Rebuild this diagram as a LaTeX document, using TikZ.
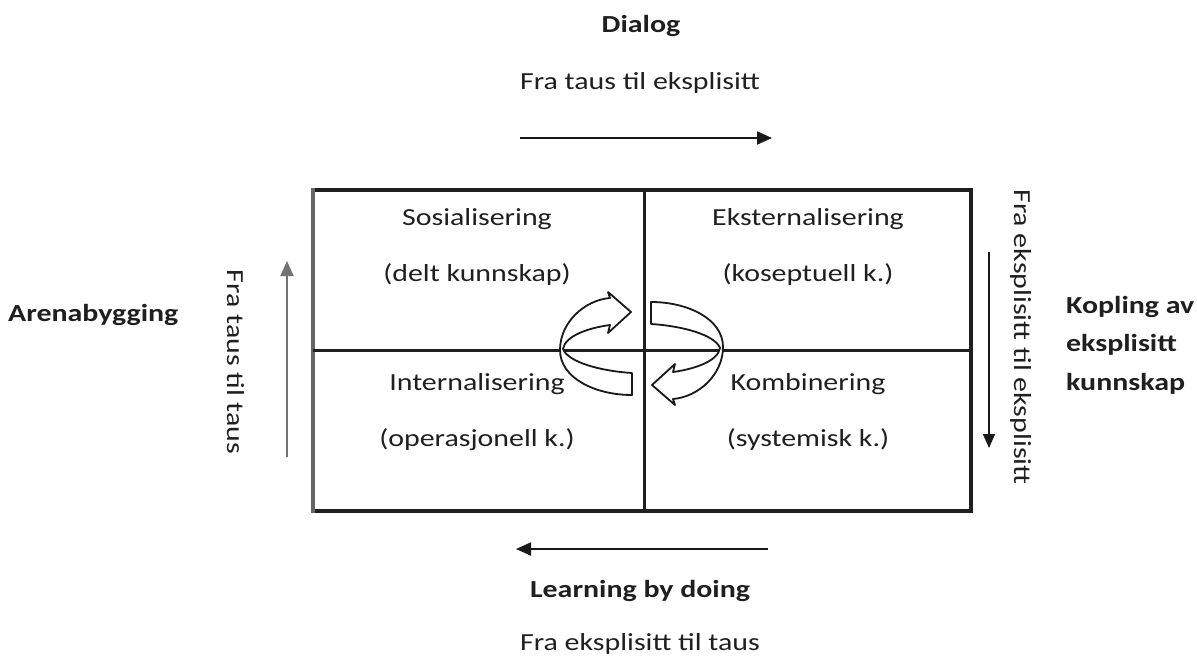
\documentclass[tikz,border=0pt]{standalone}
\usepackage{fontspec}
\setmainfont{Carlito}[FakeStretch=1.22]
\usetikzlibrary{arrows.meta}
\begin{document}
\begin{tikzpicture}[x=1pt,y=-1pt,
  lbl/.style={font=\fontsize{24.5}{28}\selectfont, inner sep=0pt, anchor=base, text=black!88},
  blbl/.style={lbl, font=\fontsize{24.5}{28}\selectfont\bfseries},
  vlbl/.style={lbl, anchor=center, rotate=-90},
  arr/.style={line width=2pt, black!90, -{Triangle[length=15pt,width=13pt]}},
  thinarr/.style={line width=1.5pt, black!90, -{Triangle[length=14pt,width=12pt]}},
  grayarr/.style={line width=2pt, black!55, -{Triangle[length=15pt,width=13pt]}},
  grid/.style={line width=4pt, black!88},
  cyc/.style={draw=black!90, fill=white, line width=1.8pt, line join=round}
]
\useasboundingbox (0,0) rectangle (1197,658);

% top
\node[blbl] (dialog) at (641,33) {Dialog};
\node[lbl] (dtxt) at (640,90) {Fra taus til eksplisitt};
\coordinate (da1) at (520,138);
\coordinate (da2) at (772,138);
\draw[arr] (da1) -- (da2);

% grid
\draw[grid] (313,190) -- (971,190) -- (971,511) -- (313,511);
\draw[grid, black!60] (313,188) -- (313,513);
\draw[line width=3pt, black!88] (644,190) -- (644,511);
\draw[line width=3pt, black!88] (313,350) -- (971,350);

% quadrant texts
\node[lbl] (sos) at (477,225) {Sosialisering};
\node[lbl] (sosk) at (477,281) {(delt kunnskap)};
\node[lbl] (eks) at (808,225) {Eksternalisering};
\node[lbl] (eksk) at (808,281) {(koseptuell k.)};
\node[lbl] (int) at (477,390) {Internalisering};
\node[lbl] (intk) at (477,446) {(operasjonell k.)};
\node[lbl] (kom) at (808,390) {Kombinering};
\node[lbl] (komk) at (808,446) {(systemisk k.)};

% cycle arrows
\path[cyc] (632,395) .. controls (595,395) and (560,378) .. (560,350)
  .. controls (560,322) and (585,300) .. (610,298)
  -- (608,292) -- (631,312) -- (608,333) -- (610,325)
  .. controls (588,328) and (565,336) .. (563,349)
  .. controls (568,362) and (600,371) .. (632,373) -- cycle;
\path[cyc, rotate around={180:(641.5,348.5)}] (632,395) .. controls (595,395) and (560,378) .. (560,350)
  .. controls (560,322) and (585,300) .. (610,298)
  -- (608,292) -- (631,312) -- (608,333) -- (610,325)
  .. controls (588,328) and (565,336) .. (563,349)
  .. controls (568,362) and (600,371) .. (632,373) -- cycle;

% left side
\node[blbl, anchor=base west] (arena) at (8,321) {Arenabygging};
\node[vlbl] (ltt) at (236,362) {Fra taus til taus};
\coordinate (la1) at (287,457);
\coordinate (la2) at (287,261);
\draw[grayarr] (la1) -- (la2);

% right side
\node[vlbl] (ree) at (1021,337) {Fra eksplisitt til eksplisitt};
\coordinate (ra1) at (989,252);
\coordinate (ra2) at (989,448);
\draw[thinarr] (ra1) -- (ra2);
\node[blbl, anchor=west, align=left, font=\fontsize{24.5}{38.5}\selectfont\bfseries] (kop) at (1066,345) {Kopling av\\eksplisitt\\kunnskap};

% bottom
\coordinate (ba1) at (768,549);
\coordinate (ba2) at (516,549);
\draw[arr] (ba1) -- (ba2);
\node[blbl] (lbd) at (640,597) {Learning by doing};
\node[lbl] (btxt) at (640,650) {Fra eksplisitt til taus};
\end{tikzpicture}
\end{document}
